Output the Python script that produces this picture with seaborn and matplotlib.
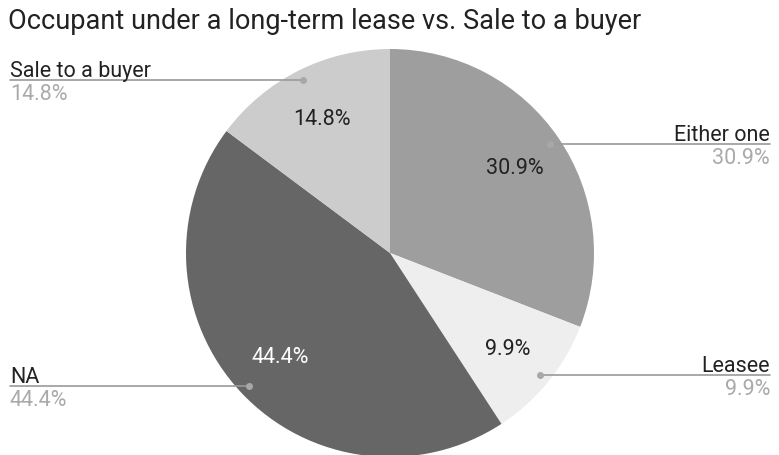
import numpy as np
import matplotlib
matplotlib.use("Agg")
import matplotlib.pyplot as plt
import seaborn as sns

# data
labels = ["Either one", "Leasee", "NA", "Sale to a buyer"]
shares = [30.9, 9.9, 44.4, 14.8]
colors = ["#9e9e9e", "#eeeeee", "#666666", "#cccccc"]
pct_colors = ["#222222", "#222222", "#ffffff", "#222222"]

sns.set_theme(style="white")
plt.rcParams["font.family"] = ["Roboto", "DejaVu Sans"]

W, H = 779, 456
fig = plt.figure(figsize=(W / 100, H / 100), dpi=100)
ax = fig.add_axes([0, 0, 1, 1])
ax.set_xlim(0, W)
ax.set_ylim(0, H)
ax.axis("off")

cx, cy, R = 390, H - 254, 204
wedges, _, autotexts = ax.pie(
    shares, colors=colors, startangle=90, counterclock=False,
    center=(cx, cy), radius=R, autopct="%.1f%%", pctdistance=0.74,
    wedgeprops=dict(linewidth=0), textprops=dict(fontsize=15.5),
)
for t, c in zip(autotexts, pct_colors):
    t.set_color(c)
ax.set_xlim(0, W)
ax.set_ylim(0, H)
ax.set_aspect("auto")

# outside labels with leader lines
for w, lab, val in zip(wedges, labels, shares):
    ang = np.deg2rad((w.theta1 + w.theta2) / 2)
    px = cx + 0.95 * R * np.cos(ang)
    py = cy + 0.95 * R * np.sin(ang)
    if np.cos(ang) >= 0:
        x_end, ha = 770, "right"
    else:
        x_end, ha = 10, "left"
    ax.plot([px, x_end], [py, py], color="#9a9a9a", lw=1.2, zorder=3)
    ax.plot(px, py, "o", color="#a8a8a8", ms=4, zorder=4)
    ax.text(x_end, py + 4, lab, ha=ha, va="baseline", fontsize=15.5, color="#222222")
    ax.text(x_end, py - 3, f"{val}%", ha=ha, va="top", fontsize=15.5, color="#aaaaaa")

fig.text(8 / W, 1 - 8 / H, "Occupant under a long-term lease vs. Sale to a buyer",
         ha="left", va="top", fontsize=19.5, color="#222222")

fig.savefig("out.png", dpi=100)
